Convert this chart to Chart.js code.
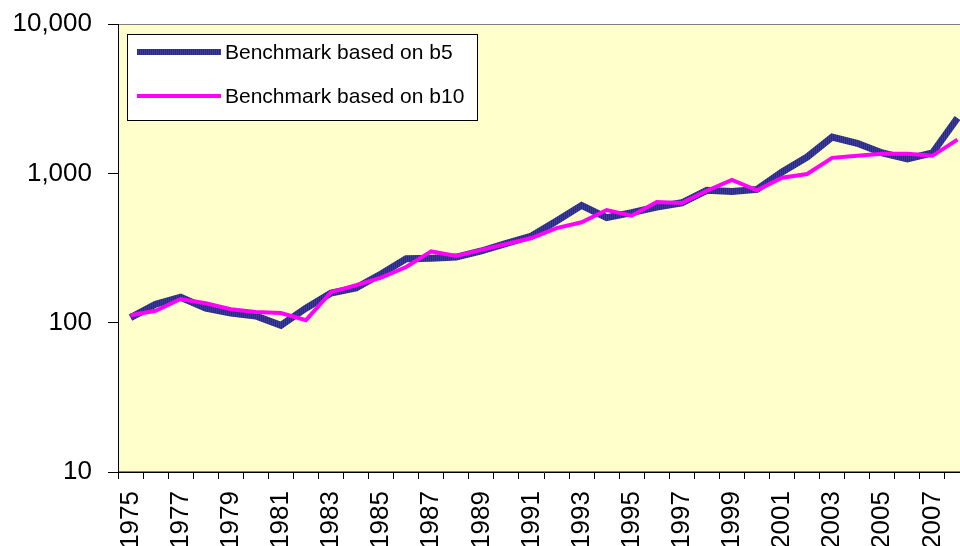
<!DOCTYPE html>
<html>
<head>
<meta charset="utf-8">
<title>Benchmark</title>
<script src="https://cdn.jsdelivr.net/npm/chart.js@4.4.0/dist/chart.umd.min.js"></script>
<style>
  html, body { margin: 0; padding: 0; background: #fff; overflow: hidden; }
  #wrap { width: 980px; height: 546px; }
</style>
</head>
<body>
<div id="wrap"><canvas id="benchChart" width="980" height="546"></canvas></div>
<script>
// data
const years = ['1975', '1976', '1977', '1978', '1979', '1980', '1981', '1982', '1983', '1984',
  '1985', '1986', '1987', '1988', '1989', '1990', '1991', '1992', '1993', '1994',
  '1995', '1996', '1997', '1998', '1999', '2000', '2001', '2002', '2003', '2004',
  '2005', '2006', '2007', '2008'];
const b5 = [108, 133, 148, 125, 116, 111, 96, 125, 158, 171,
  212, 268, 270, 275, 302, 340, 380, 480, 610, 505,
  545, 595, 635, 770, 755, 780, 1020, 1285, 1750, 1590,
  1370, 1250, 1370, 2350];
const b10 = [112, 120, 144, 135, 123, 118, 116, 104, 160, 178,
  200, 236, 300, 280, 307, 336, 369, 430, 470, 568,
  520, 643, 633, 765, 905, 770, 935, 990, 1270, 1310,
  1350, 1350, 1310, 1680];
const yTicks = [10, 100, 1000, 10000];
const seriesNames = ['Benchmark based on b5', 'Benchmark based on b10'];

const FONT = "'Liberation Sans', Arial, sans-serif";
const ctx = document.getElementById('benchChart').getContext('2d');

// striped navy stroke like the excel export
function stripes() {
  const c = document.createElement('canvas');
  c.width = 2; c.height = 1;
  const g = c.getContext('2d');
  g.fillStyle = '#3b3b9c'; g.fillRect(0, 0, 2, 1);
  g.fillStyle = '#2a2a80'; g.fillRect(1, 0, 1, 1);
  return ctx.createPattern(c, 'repeat');
}
const navy = stripes();

// yellow plot area + grey frame, legend box drawn by hand
const plotFrame = {
  id: 'plotFrame',
  beforeDraw(chart) {
    const a = chart.chartArea, c = chart.ctx;
    c.save();
    c.fillStyle = '#ffffcc';
    c.fillRect(a.left, a.top, a.right - a.left, a.bottom - a.top);
    c.strokeStyle = '#808080';
    c.lineWidth = 1;
    c.strokeRect(a.left + 0.5, a.top + 0.5, a.right - a.left - 1, a.bottom - a.top - 1);
    c.restore();
  },
  afterDraw(chart) {
    const a = chart.chartArea, c = chart.ctx;
    const x = a.left + 9, y = a.top + 10, w = 350, h = 86;
    c.save();
    c.fillStyle = '#fff';
    c.fillRect(x, y, w, h);
    c.strokeStyle = '#000';
    c.lineWidth = 1;
    c.strokeRect(x + 0.5, y + 0.5, w, h);
    [0, 1].forEach(i => {
      const ds = chart.data.datasets[i];
      const ry = y + 18 + i * 44;
      c.strokeStyle = ds.borderColor;
      c.lineWidth = i === 0 ? 6 : 4;
      c.beginPath();
      c.moveTo(x + 10, ry);
      c.lineTo(x + 94, ry);
      c.stroke();
      c.fillStyle = '#000';
      c.font = '21px ' + FONT;
      c.textBaseline = 'middle';
      c.fillText(ds.label, x + 98, ry + 1);
    });
    c.restore();
  }
};

const benchChart = new Chart(ctx, {
  type: 'line',
  data: {
    labels: years,
    datasets: [{
      label: seriesNames[0],
      data: b5,
      borderColor: navy,
      borderWidth: 7,
      pointRadius: 0,
      order: 1
    }, {
      label: seriesNames[1],
      data: b10,
      borderColor: '#ff00ff',
      borderWidth: 4,
      pointRadius: 0,
      order: 0
    }]
  },
  options: {
    responsive: false,
    animation: false,
    devicePixelRatio: 1,
    layout: { padding: { top: 24, left: 0, right: 10, bottom: 0 } },
    plugins: { legend: { display: false }, tooltip: { enabled: false } },
    scales: {
      x: {
        offset: true,
        grid: { offset: true, drawOnChartArea: false, tickLength: 7, color: '#000' },
        border: { color: '#000' },
        ticks: {
          autoSkip: false,
          minRotation: 90,
          maxRotation: 90,
          padding: 12,
          color: '#000',
          font: { family: FONT, size: 26 },
          callback: function (v, i) { return i % 2 === 0 ? this.getLabelForValue(v) : ''; }
        },
        afterFit: s => { s.height = 74; s.paddingLeft = 0; s.paddingRight = 0; }
      },
      y: {
        type: 'logarithmic',
        min: 10,
        max: 10000,
        afterBuildTicks: s => { s.ticks = yTicks.map(v => ({ value: v })); },
        afterFit: s => { s.width = 118; s.paddingTop = 0; s.paddingBottom = 0; },
        grid: { drawOnChartArea: false, tickLength: 10, color: '#000' },
        border: { color: '#000' },
        ticks: {
          padding: 16,
          color: '#000',
          font: { family: FONT, size: 26 },
          callback: v => v.toLocaleString('en-US')
        }
      }
    }
  },
  plugins: [plotFrame]
});
</script>
</body>
</html>
